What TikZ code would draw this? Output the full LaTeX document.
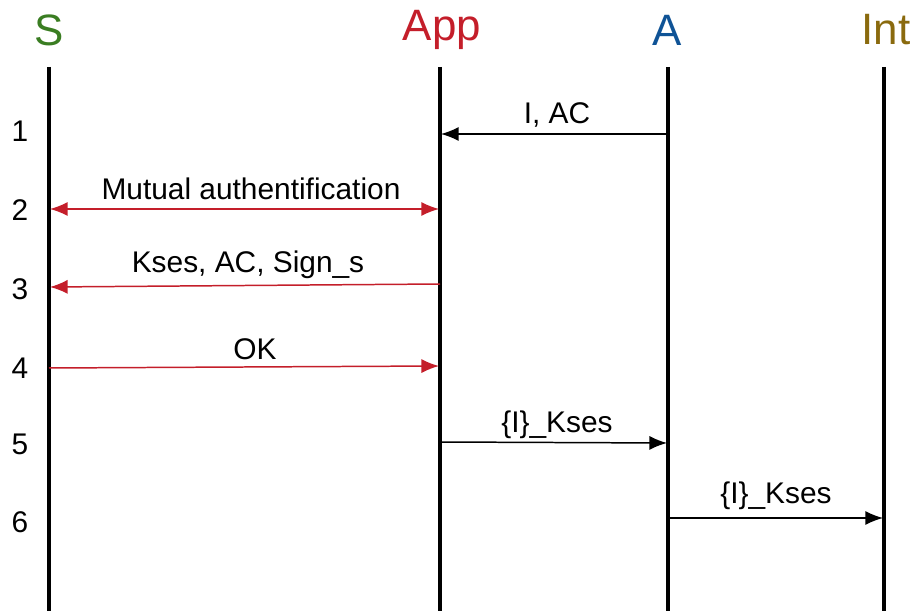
\documentclass[tikz,border=0pt]{standalone}
\usepackage{fontspec}
\setmainfont{Liberation Sans}
\usepackage{xcolor}
\usetikzlibrary{arrows.meta,positioning}
\definecolor{seqgreen}{HTML}{3A7D22}
\definecolor{seqred}{HTML}{C41E2A}
\definecolor{seqblue}{HTML}{0F5396}
\definecolor{seqolive}{HTML}{8A6A0E}
\tikzset{
  actor/.style={font=\fontsize{25}{28}\selectfont,inner sep=0pt},
  lifeline/.style={line width=2.1pt,draw=black},
  stepnum/.style={font=\fontsize{17}{20}\selectfont,inner sep=0pt},
  msglabel/.style={font=\fontsize{17}{20}\selectfont,inner sep=0pt},
  msg/.style={-{Latex[length=10pt,width=8pt]},line width=0.85pt,draw=black},
  redmsg/.style={-{Latex[length=10pt,width=8pt]},line width=0.85pt,draw=seqred},
  redboth/.style={{Latex[length=10pt,width=8pt]}-{Latex[length=10pt,width=8pt]},line width=0.85pt,draw=seqred}
}
\begin{document}
\begin{tikzpicture}[x=0.02cm,y=-0.02cm]
\useasboundingbox (0,0) rectangle (914,611);
% actors
\node[actor,text=seqgreen] (s) at (49,30) {S};
\node[actor,text=seqred] (app) at (442,30) {App};
\node[actor,text=seqblue] (a) at (667,30) {A};
\node[actor,text=seqolive] (int) at (886,30) {Int};
% lifelines
\coordinate (stop) at (49,67);
\coordinate (sbot) at (49,611);
\coordinate (apptop) at (440,67);
\coordinate (appbot) at (440,611);
\coordinate (atop) at (668,67);
\coordinate (abot) at (668,611);
\coordinate (inttop) at (884,67);
\coordinate (intbot) at (884,611);
\draw[lifeline] (stop) -- (sbot);
\draw[lifeline] (apptop) -- (appbot);
\draw[lifeline] (atop) -- (abot);
\draw[lifeline] (inttop) -- (intbot);
% step numbers
\node[stepnum] (n1) at (20,131) {1};
\node[stepnum] (n2) at (20,210) {2};
\node[stepnum] (n3) at (20,289) {3};
\node[stepnum] (n4) at (20,368) {4};
\node[stepnum] (n5) at (20,444) {5};
\node[stepnum] (n6) at (20,522) {6};
% message end points
\coordinate (a1) at (668,134);
\coordinate (app1) at (441,134);
\coordinate (s2) at (50,209);
\coordinate (app2) at (439,209);
\coordinate (app3) at (440,284);
\coordinate (s3) at (50,287);
\coordinate (s4) at (49,368);
\coordinate (app4) at (439,366);
\coordinate (app5) at (440,442);
\coordinate (a5) at (667,443);
\coordinate (a6) at (668,518);
\coordinate (int6) at (883,518);
% messages
\draw[msg] (a1) -- (app1);
\node[msglabel] (l1) at (557,115) {I, AC};
\draw[redboth] (s2) -- (app2);
\node[msglabel] (l2) at (251,189) {Mutual authentification};
\draw[redmsg] (app3) -- (s3);
\node[msglabel] (l3) at (248,265) {Kses, AC, Sign\_s};
\draw[redmsg] (s4) -- (app4);
\node[msglabel] (l4) at (255,349) {OK};
\draw[msg] (app5) -- (a5);
\node[msglabel] (l5) at (557,425) {\{I\}\_Kses};
\draw[msg] (a6) -- (int6);
\node[msglabel] (l6) at (776,496) {\{I\}\_Kses};
\end{tikzpicture}
\end{document}
